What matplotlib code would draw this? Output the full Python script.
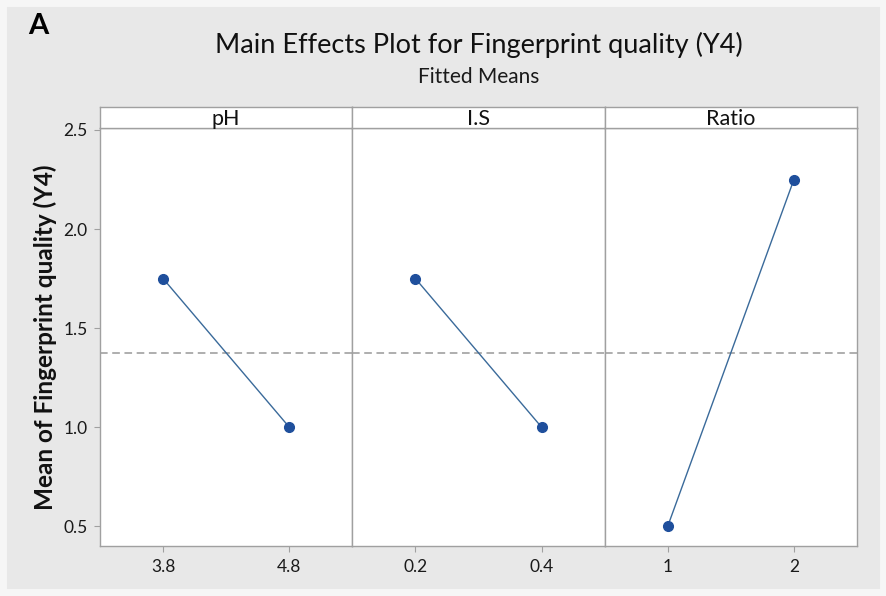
import matplotlib
matplotlib.use("Agg")
import matplotlib.pyplot as plt
from matplotlib.patches import Rectangle

# data
factors = ["pH", "I.S", "Ratio"]
levels = [[3.8, 4.8], [0.2, 0.4], [1, 2]]
level_labels = [["3.8", "4.8"], ["0.2", "0.4"], ["1", "2"]]
fitted_means = [[1.75, 1.0], [1.75, 1.0], [0.5, 2.25]]
overall_mean = 1.375
y_ticks = [0.5, 1.0, 1.5, 2.0, 2.5]

plt.rcParams['font.family'] = ['Lato', 'DejaVu Sans']

W, H = 887, 596
fig = plt.figure(figsize=(W / 100, H / 100), dpi=100)
fig.patch.set_facecolor("#e8e8e8")
# light outer border like the screenshot
fig.patches.append(Rectangle((0, 0), 1, 1, transform=fig.transFigure,
                             fill=False, edgecolor="#f6f6f6", lw=10))

frame_col = "#a0a0a0"
text_col = "#1a1a1a"
left_px, right_px = 100, 857
top_px, strip_px, bottom_px = 128, 21, 546
pw = (right_px - left_px) / 3

for i, name in enumerate(factors):
    x0 = left_px + i * pw
    ax = fig.add_axes([x0 / W, 1 - bottom_px / H, pw / W, (bottom_px - top_px) / H])
    ax.set_facecolor("white")
    lo, hi = levels[i]
    span = hi - lo
    ax.set_xlim(lo - 0.5 * span, hi + 0.5 * span)
    ax.set_ylim(0.4, 2.51)
    ax.axhline(overall_mean, color="#999999", lw=1.1, ls=(0, (5, 3)), zorder=1)
    ax.plot(levels[i], fitted_means[i], color="#3a6a9a", lw=1.0, zorder=2)
    ax.plot(levels[i], fitted_means[i], "o", color="#1f4f9c", ms=7, zorder=3)
    ax.set_xticks(levels[i])
    ax.set_xticklabels(level_labels[i], fontsize=12.5)
    ax.set_yticks(y_ticks)
    if i == 0:
        ax.set_yticklabels([f"{v:.1f}" for v in y_ticks], fontsize=12.5)
    else:
        ax.tick_params(axis="y", left=False, labelleft=False)
    ax.tick_params(colors=frame_col, labelcolor=text_col, length=4, width=0.8, pad=5)
    for s in ax.spines.values():
        s.set_color(frame_col)
        s.set_linewidth(1.0)

    # strip header
    sax = fig.add_axes([x0 / W, 1 - top_px / H, pw / W, strip_px / H])
    sax.set_facecolor("white")
    sax.set_xticks([])
    sax.set_yticks([])
    for s in sax.spines.values():
        s.set_color(frame_col)
        s.set_linewidth(1.0)
    sax.text(0.5, 0.42, name, ha="center", va="center", fontsize=15.5,
             color="#111111", transform=sax.transAxes)

cx = (left_px + right_px) / 2 / W
fig.text(cx, 1 - 45 / H, "Main Effects Plot for Fingerprint quality (Y4)",
         ha="center", va="center", fontsize=19.5, color="#111111")
fig.text(cx, 1 - 77 / H, "Fitted Means", ha="center", va="center",
         fontsize=15, color=text_col)
fig.text(45 / W, 1 - 337 / H, "Mean of Fingerprint quality (Y4)", rotation=90,
         ha="center", va="center", fontsize=17.5, fontweight="bold", color="#111111")
fig.text(38 / W, 1 - 26 / H, "A", ha="center", va="center", fontsize=21,
         fontweight="bold", color="black")

fig.savefig("out.png", dpi=100, facecolor=fig.get_facecolor())
